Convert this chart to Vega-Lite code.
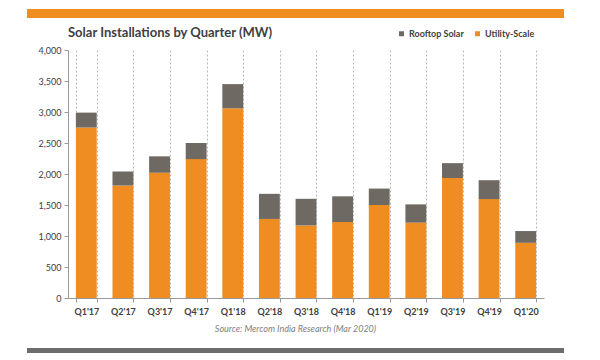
{
  "$schema": "https://vega.github.io/schema/vega-lite/v6.json",
  "padding": {"left": 27, "top": 9, "right": 5, "bottom": 5},
  "spacing": 9,
  "config": {
    "view": {"stroke": null},
    "font": "Lato",
    "title": {"font": "Lato"},
    "axis": {"labelFont": "Lato", "titleFont": "Lato"},
    "legend": {"labelFont": "Lato"}
  },
  "vconcat": [
    {
      "data": {"values": [{"part": "top"}]},
      "width": 476,
      "height": 9,
      "mark": {"type": "rect", "color": "#EF8D22", "clip": false},
      "encoding": {
        "x": {"datum": 0, "type": "quantitative", "scale": {"domain": [0.07635, 0.96276], "nice": false, "zero": false}, "axis": null},
        "x2": {"datum": 1},
        "y": {"datum": 0, "type": "quantitative", "scale": {"domain": [0, 1], "nice": false}, "axis": null},
        "y2": {"datum": 1}
      }
    },
    {
      "data": {
        "values": [
          {"q": "Q1'17", "type": "Utility-Scale", "mw": 2750},
          {"q": "Q1'17", "type": "Rooftop Solar", "mw": 240},
          {"q": "Q2'17", "type": "Utility-Scale", "mw": 1815},
          {"q": "Q2'17", "type": "Rooftop Solar", "mw": 225},
          {"q": "Q3'17", "type": "Utility-Scale", "mw": 2020},
          {"q": "Q3'17", "type": "Rooftop Solar", "mw": 265},
          {"q": "Q4'17", "type": "Utility-Scale", "mw": 2240},
          {"q": "Q4'17", "type": "Rooftop Solar", "mw": 260},
          {"q": "Q1'18", "type": "Utility-Scale", "mw": 3060},
          {"q": "Q1'18", "type": "Rooftop Solar", "mw": 390},
          {"q": "Q2'18", "type": "Utility-Scale", "mw": 1275},
          {"q": "Q2'18", "type": "Rooftop Solar", "mw": 405},
          {"q": "Q3'18", "type": "Utility-Scale", "mw": 1170},
          {"q": "Q3'18", "type": "Rooftop Solar", "mw": 430},
          {"q": "Q4'18", "type": "Utility-Scale", "mw": 1225},
          {"q": "Q4'18", "type": "Rooftop Solar", "mw": 415},
          {"q": "Q1'19", "type": "Utility-Scale", "mw": 1500},
          {"q": "Q1'19", "type": "Rooftop Solar", "mw": 265},
          {"q": "Q2'19", "type": "Utility-Scale", "mw": 1215},
          {"q": "Q2'19", "type": "Rooftop Solar", "mw": 295},
          {"q": "Q3'19", "type": "Utility-Scale", "mw": 1935},
          {"q": "Q3'19", "type": "Rooftop Solar", "mw": 240},
          {"q": "Q4'19", "type": "Utility-Scale", "mw": 1595},
          {"q": "Q4'19", "type": "Rooftop Solar", "mw": 305},
          {"q": "Q1'20", "type": "Utility-Scale", "mw": 890},
          {"q": "Q1'20", "type": "Rooftop Solar", "mw": 190}
        ]
      },
      "width": 476,
      "height": 248,
      "title": {
        "text": "Solar Installations by Quarter (MW)",
        "anchor": "start",
        "frame": "group",
        "fontSize": 13,
        "fontWeight": "bold",
        "color": "#404040",
        "offset": 6
      },
      "mark": {"type": "bar"},
      "encoding": {
        "x": {
          "field": "q",
          "type": "nominal",
          "sort": null,
          "scale": {"paddingInner": 0.43, "paddingOuter": 0.215},
          "axis": {
            "title": null,
            "labelAngle": 0,
            "labelFontSize": 9,
            "labelFontWeight": "bold",
            "labelColor": "#404040",
            "labelPadding": 5,
            "domainColor": "#999999",
            "tickColor": "#999999",
            "tickSize": 4,
            "tickBand": "extent",
            "grid": true,
            "gridDash": [2, 2],
            "gridColor": "#b8b8b8"
          }
        },
        "y": {
          "field": "mw",
          "type": "quantitative",
          "stack": "zero",
          "scale": {"domain": [0, 4000]},
          "axis": {
            "title": null,
            "values": [0, 500, 1000, 1500, 2000, 2500, 3000, 3500, 4000],
            "format": ",.0f",
            "grid": false,
            "labelFontSize": 9,
            "labelColor": "#404040",
            "labelPadding": 3,
            "domainColor": "#999999",
            "tickColor": "#999999",
            "tickSize": 4,
            "minExtent": 41
          }
        },
        "color": {
          "field": "type",
          "type": "nominal",
          "scale": {"domain": ["Rooftop Solar", "Utility-Scale"], "range": ["#6E6A63", "#EF8D22"]},
          "legend": {
            "title": null,
            "orient": "none",
            "legendX": 329,
            "legendY": 20,
            "direction": "horizontal",
            "symbolType": "square",
            "symbolSize": 25,
            "symbolStrokeWidth": 0,
            "labelFontSize": 9,
            "labelFontWeight": "bold",
            "labelColor": "#404040",
            "columnPadding": 9,
            "labelOffset": 3
          }
        },
        "order": {"field": "type", "sort": "descending"}
      }
    },
    {
      "data": {"values": [{"part": "bottom"}]},
      "width": 476,
      "height": 5,
      "title": {
        "text": "Source: Mercom India Research (Mar 2020)",
        "anchor": "middle",
        "frame": "bounds",
        "fontSize": 9,
        "fontStyle": "italic",
        "fontWeight": "normal",
        "color": "#808080",
        "offset": 14
      },
      "mark": {"type": "rect", "color": "#6D6D6D", "clip": false},
      "encoding": {
        "x": {"datum": 0, "type": "quantitative", "scale": {"domain": [0.07635, 0.96276], "nice": false, "zero": false}, "axis": null},
        "x2": {"datum": 1},
        "y": {"datum": 0, "type": "quantitative", "scale": {"domain": [0, 1], "nice": false}, "axis": null},
        "y2": {"datum": 1}
      }
    }
  ]
}
